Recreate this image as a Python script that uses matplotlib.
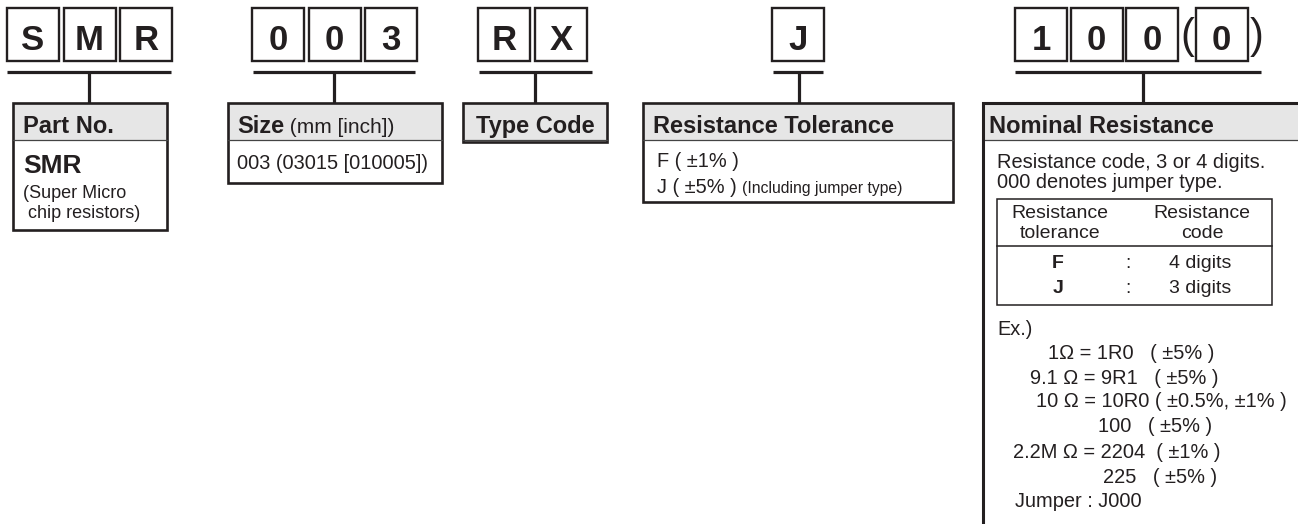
import matplotlib
matplotlib.use("Agg")
import matplotlib.pyplot as plt
from matplotlib.patches import Rectangle

# ---------------- data ----------------
code_groups = [["S", "M", "R"], ["0", "0", "3"], ["R", "X"], ["J"], ["1", "0", "0", "0"]]
optional_last = [False, False, False, False, True]   # last digit shown in parentheses
titles = ["Part No.", "Size", "Type Code", "Resistance Tolerance", "Nominal Resistance"]
size_title_extra = " (mm [inch])"
part_main = "SMR"
part_lines = ["(Super Micro", " chip resistors)"]
size_lines = ["003 (03015 [010005])"]
tol_lines = [("F ( \u00b11% )", ""), ("J ( \u00b15% ) ", "(Including jumper type)")]
nom_intro = ["Resistance code, 3 or 4 digits.", "000 denotes jumper type."]
table_head = [["Resistance", "tolerance"], ["Resistance", "code"]]
table_rows = [("F", "4 digits"), ("J", "3 digits")]
ex_title = "Ex.)"
ex_lines = ["1\u03a9 = 1R0   ( \u00b15% )",
            "9.1 \u03a9 = 9R1   ( \u00b15% )",
            "10 \u03a9 = 10R0 ( \u00b10.5%, \u00b11% )",
            "100   ( \u00b15% )",
            "2.2M \u03a9 = 2204  ( \u00b11% )",
            "225   ( \u00b15% )",
            "Jumper : J000"]

# ---------------- layout ----------------
INK = "#231f20"
GRAY = "#e6e6e6"
FONT = "Liberation Sans"
W, H = 1298, 524

group_start = [7, 252, 478, 772, 1015]
group_step = [56.5, 56.5, 57, 57, 55.5]
box_w, box_top, box_bot = 52, 8, 61
bar_y = 72
bar_span = [(7, 171), (253, 415), (479, 592), (773, 823), (1015, 1261)]
conn_x = [89, 334, 535, 799, 1143]
info_top = 103
info_boxes = [(13, 167, 230), (228, 442, 183), (463, 607, 142), (643, 953, 202), (983, W + 10, H + 10)]
head_bot = 140
title_x = [23, 237, None, 653, 989]
title_base = 133

fig = plt.figure(figsize=(W / 100, H / 100), dpi=100)
ax = fig.add_axes([0, 0, 1, 1])
ax.set_xlim(0, W)
ax.set_ylim(H, 0)
ax.axis("off")
fig.patch.set_facecolor("white")


def txt(x, y, s, size, bold=False, ha="left", **kw):
    return ax.text(x, y, s, fontsize=size, fontweight="bold" if bold else "normal",
                   family=FONT, color=INK, ha=ha, va="baseline", **kw)


renderer = fig.canvas.get_renderer()


def right_edge(t):
    bb = t.get_window_extent(renderer)
    return bb.x1


# code boxes
for g, codes in enumerate(code_groups):
    x = group_start[g]
    for i, c in enumerate(codes):
        if optional_last[g] and i == len(codes) - 1:
            txt(x + 6, 48, "(", 30, ha="center")
            x += 14
            bx = x
            txt(bx + box_w + 9.5, 48, ")", 30, ha="center")
        else:
            bx = x
        ax.add_patch(Rectangle((bx, box_top), box_w, box_bot - box_top, fill=False,
                               ec=INK, lw=1.7))
        txt(bx + box_w / 2, 50, c, 25, bold=True, ha="center")
        x += group_step[g]
    x0, x1 = bar_span[g]
    ax.plot([x0, x1], [bar_y, bar_y], color=INK, lw=2.3, solid_capstyle="butt")
    ax.plot([conn_x[g], conn_x[g]], [bar_y, info_top], color=INK, lw=2.3, solid_capstyle="butt")

# info boxes
for g, (x0, x1, yb) in enumerate(info_boxes):
    hb = min(head_bot, yb)
    ax.add_patch(Rectangle((x0, info_top), x1 - x0, hb - info_top, fc=GRAY, ec="none"))
    if hb < yb:
        ax.plot([x0, x1], [hb, hb], color="#444444", lw=0.9)
    if g < 4:
        ax.add_patch(Rectangle((x0, info_top), x1 - x0, yb - info_top, fill=False, ec=INK, lw=1.9))
    else:
        ax.plot([x1, x0, x0], [info_top, info_top, yb], color=INK, lw=2.2,
                solid_joinstyle="miter")
    if title_x[g] is None:
        txt((x0 + x1) / 2, title_base, titles[g], 17, bold=True, ha="center")
    else:
        t = txt(title_x[g], title_base, titles[g], 17, bold=True)
        if g == 1:
            txt(right_edge(t), title_base, size_title_extra, 15)

# Part No. body
txt(23, 173, part_main, 19, bold=True)
for i, s in enumerate(part_lines):
    txt(23, 198 + 20 * i, s, 13)

# Size body
for i, s in enumerate(size_lines):
    txt(237, 169 + 24 * i, s, 14.4)

# Tolerance body
for i, (s, small) in enumerate(tol_lines):
    t = txt(657, 167 + 26 * i, s, 14.4)
    if small:
        txt(right_edge(t), 167 + 26 * i, small, 11.3)

# Nominal body
for i, s in enumerate(nom_intro):
    txt(997, 168 + 20 * i, s, 14.4)

tx0, tx1, ty0, ty1, tdiv = 997, 1272, 199, 305, 246
ax.add_patch(Rectangle((tx0, ty0), tx1 - tx0, ty1 - ty0, fill=False, ec=INK, lw=1.1))
ax.plot([tx0, tx1], [tdiv, tdiv], color=INK, lw=1.1)
col_x = [1060, 1202]
for c, lines in enumerate(table_head):
    for i, s in enumerate(lines):
        txt(col_x[c], 218 + 20 * i, s, 14, ha="center")
for i, (k, v) in enumerate(table_rows):
    y = 268 + 25 * i
    txt(1058, y, k, 14, bold=True, ha="center")
    txt(1128, y, ":", 14, ha="center")
    txt(1200, y, v, 14, ha="center")

txt(997, 335, ex_title, 14.4)
ex_x = [1048, 1030, 1036, 1098, 1013, 1103, 1015]
ex_base = [359, 384, 407, 432, 458, 483, 507]
for s, x, y in zip(ex_lines, ex_x, ex_base):
    txt(x, y, s, 14.4)

fig.savefig("out.png", dpi=100, facecolor="white")
